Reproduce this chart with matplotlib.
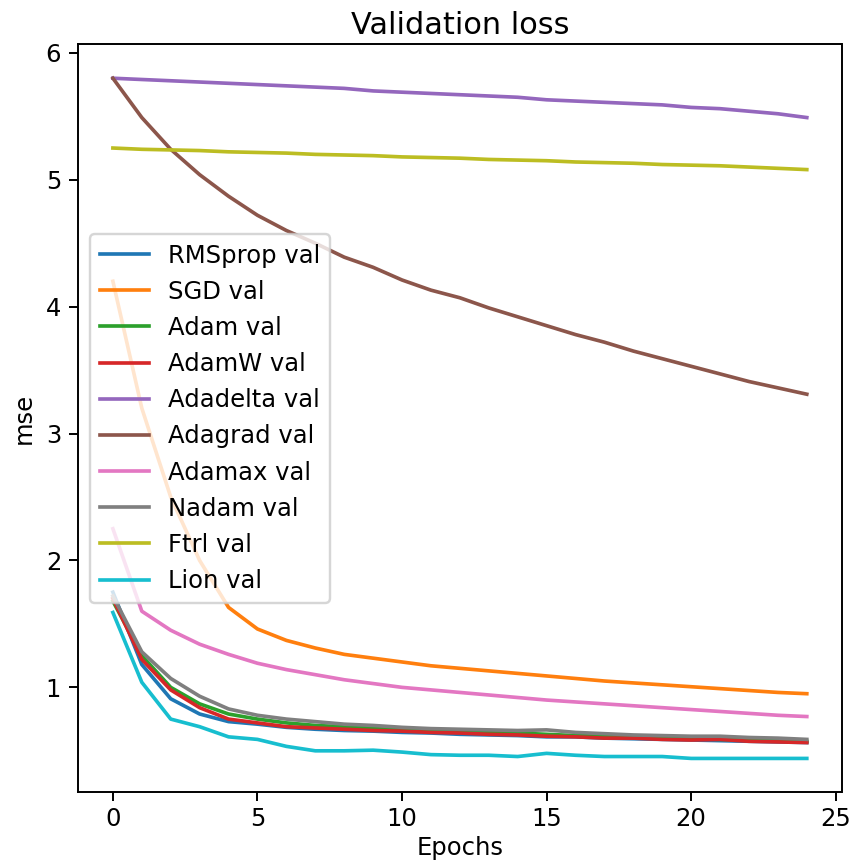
import matplotlib
matplotlib.use("Agg")
import matplotlib.pyplot as plt

epochs = list(range(25))

rmsprop = [1.75, 1.18, 0.91, 0.79, 0.73, 0.71, 0.685, 0.67, 0.66, 0.655, 0.645, 0.64, 0.63,
           0.625, 0.62, 0.61, 0.61, 0.60, 0.595, 0.59, 0.585, 0.58, 0.575, 0.57, 0.565]
sgd = [4.2, 3.2, 2.5, 2.0, 1.63, 1.46, 1.37, 1.31, 1.26, 1.23, 1.20, 1.17, 1.15,
       1.13, 1.11, 1.09, 1.07, 1.05, 1.035, 1.02, 1.005, 0.99, 0.975, 0.96, 0.95]
adam = [1.68, 1.25, 1.0, 0.87, 0.79, 0.75, 0.72, 0.70, 0.69, 0.68, 0.67, 0.66, 0.65,
        0.645, 0.64, 0.63, 0.62, 0.615, 0.61, 0.60, 0.595, 0.59, 0.585, 0.58, 0.575]
adamw = [1.70, 1.22, 0.98, 0.84, 0.75, 0.72, 0.69, 0.68, 0.67, 0.66, 0.655, 0.645, 0.64,
         0.63, 0.625, 0.615, 0.61, 0.60, 0.60, 0.59, 0.585, 0.59, 0.575, 0.57, 0.565]
adadelta = [5.80, 5.79, 5.78, 5.77, 5.76, 5.75, 5.74, 5.73, 5.72, 5.70, 5.69, 5.68, 5.67,
            5.66, 5.65, 5.63, 5.62, 5.61, 5.60, 5.59, 5.57, 5.56, 5.54, 5.52, 5.49]
adagrad = [5.80, 5.49, 5.24, 5.04, 4.87, 4.72, 4.60, 4.50, 4.39, 4.31, 4.21, 4.13, 4.07,
           3.99, 3.92, 3.85, 3.78, 3.72, 3.65, 3.59, 3.53, 3.47, 3.41, 3.36, 3.31]
adamax = [2.25, 1.60, 1.45, 1.34, 1.26, 1.19, 1.14, 1.10, 1.06, 1.03, 1.0, 0.98, 0.96,
          0.94, 0.92, 0.90, 0.885, 0.87, 0.855, 0.84, 0.825, 0.81, 0.795, 0.78, 0.77]
nadam = [1.72, 1.28, 1.07, 0.93, 0.83, 0.78, 0.75, 0.73, 0.71, 0.70, 0.685, 0.675, 0.67,
         0.665, 0.66, 0.665, 0.645, 0.635, 0.625, 0.62, 0.615, 0.615, 0.605, 0.60, 0.59]
ftrl = [5.25, 5.24, 5.235, 5.23, 5.22, 5.215, 5.21, 5.20, 5.195, 5.19, 5.18, 5.175, 5.17,
        5.16, 5.155, 5.15, 5.14, 5.135, 5.13, 5.12, 5.115, 5.11, 5.10, 5.09, 5.08]
lion = [1.59, 1.04, 0.75, 0.69, 0.61, 0.59, 0.535, 0.50, 0.50, 0.505, 0.49, 0.47, 0.465,
        0.465, 0.455, 0.48, 0.465, 0.455, 0.455, 0.455, 0.44, 0.44, 0.44, 0.44, 0.44]

names = ["RMSprop", "SGD", "Adam", "AdamW", "Adadelta", "Adagrad", "Adamax", "Nadam", "Ftrl", "Lion"]
series = [rmsprop, sgd, adam, adamw, adadelta, adagrad, adamax, nadam, ftrl, lion]

fig, ax = plt.subplots(figsize=(850 / 175, 867 / 175), dpi=175)
fig.subplots_adjust(left=0.092, right=0.99, top=0.949, bottom=0.086)

for name, vals in zip(names, series):
    ax.plot(epochs, vals, label=name + " val")

ax.set_title("Validation loss", fontsize=12.5, pad=4)
ax.set_xlabel("Epochs", labelpad=2)
ax.set_ylabel("mse")
ax.tick_params(axis="x", pad=2.5)
ax.legend(loc="center left")

fig.savefig("out.png", dpi=175)
